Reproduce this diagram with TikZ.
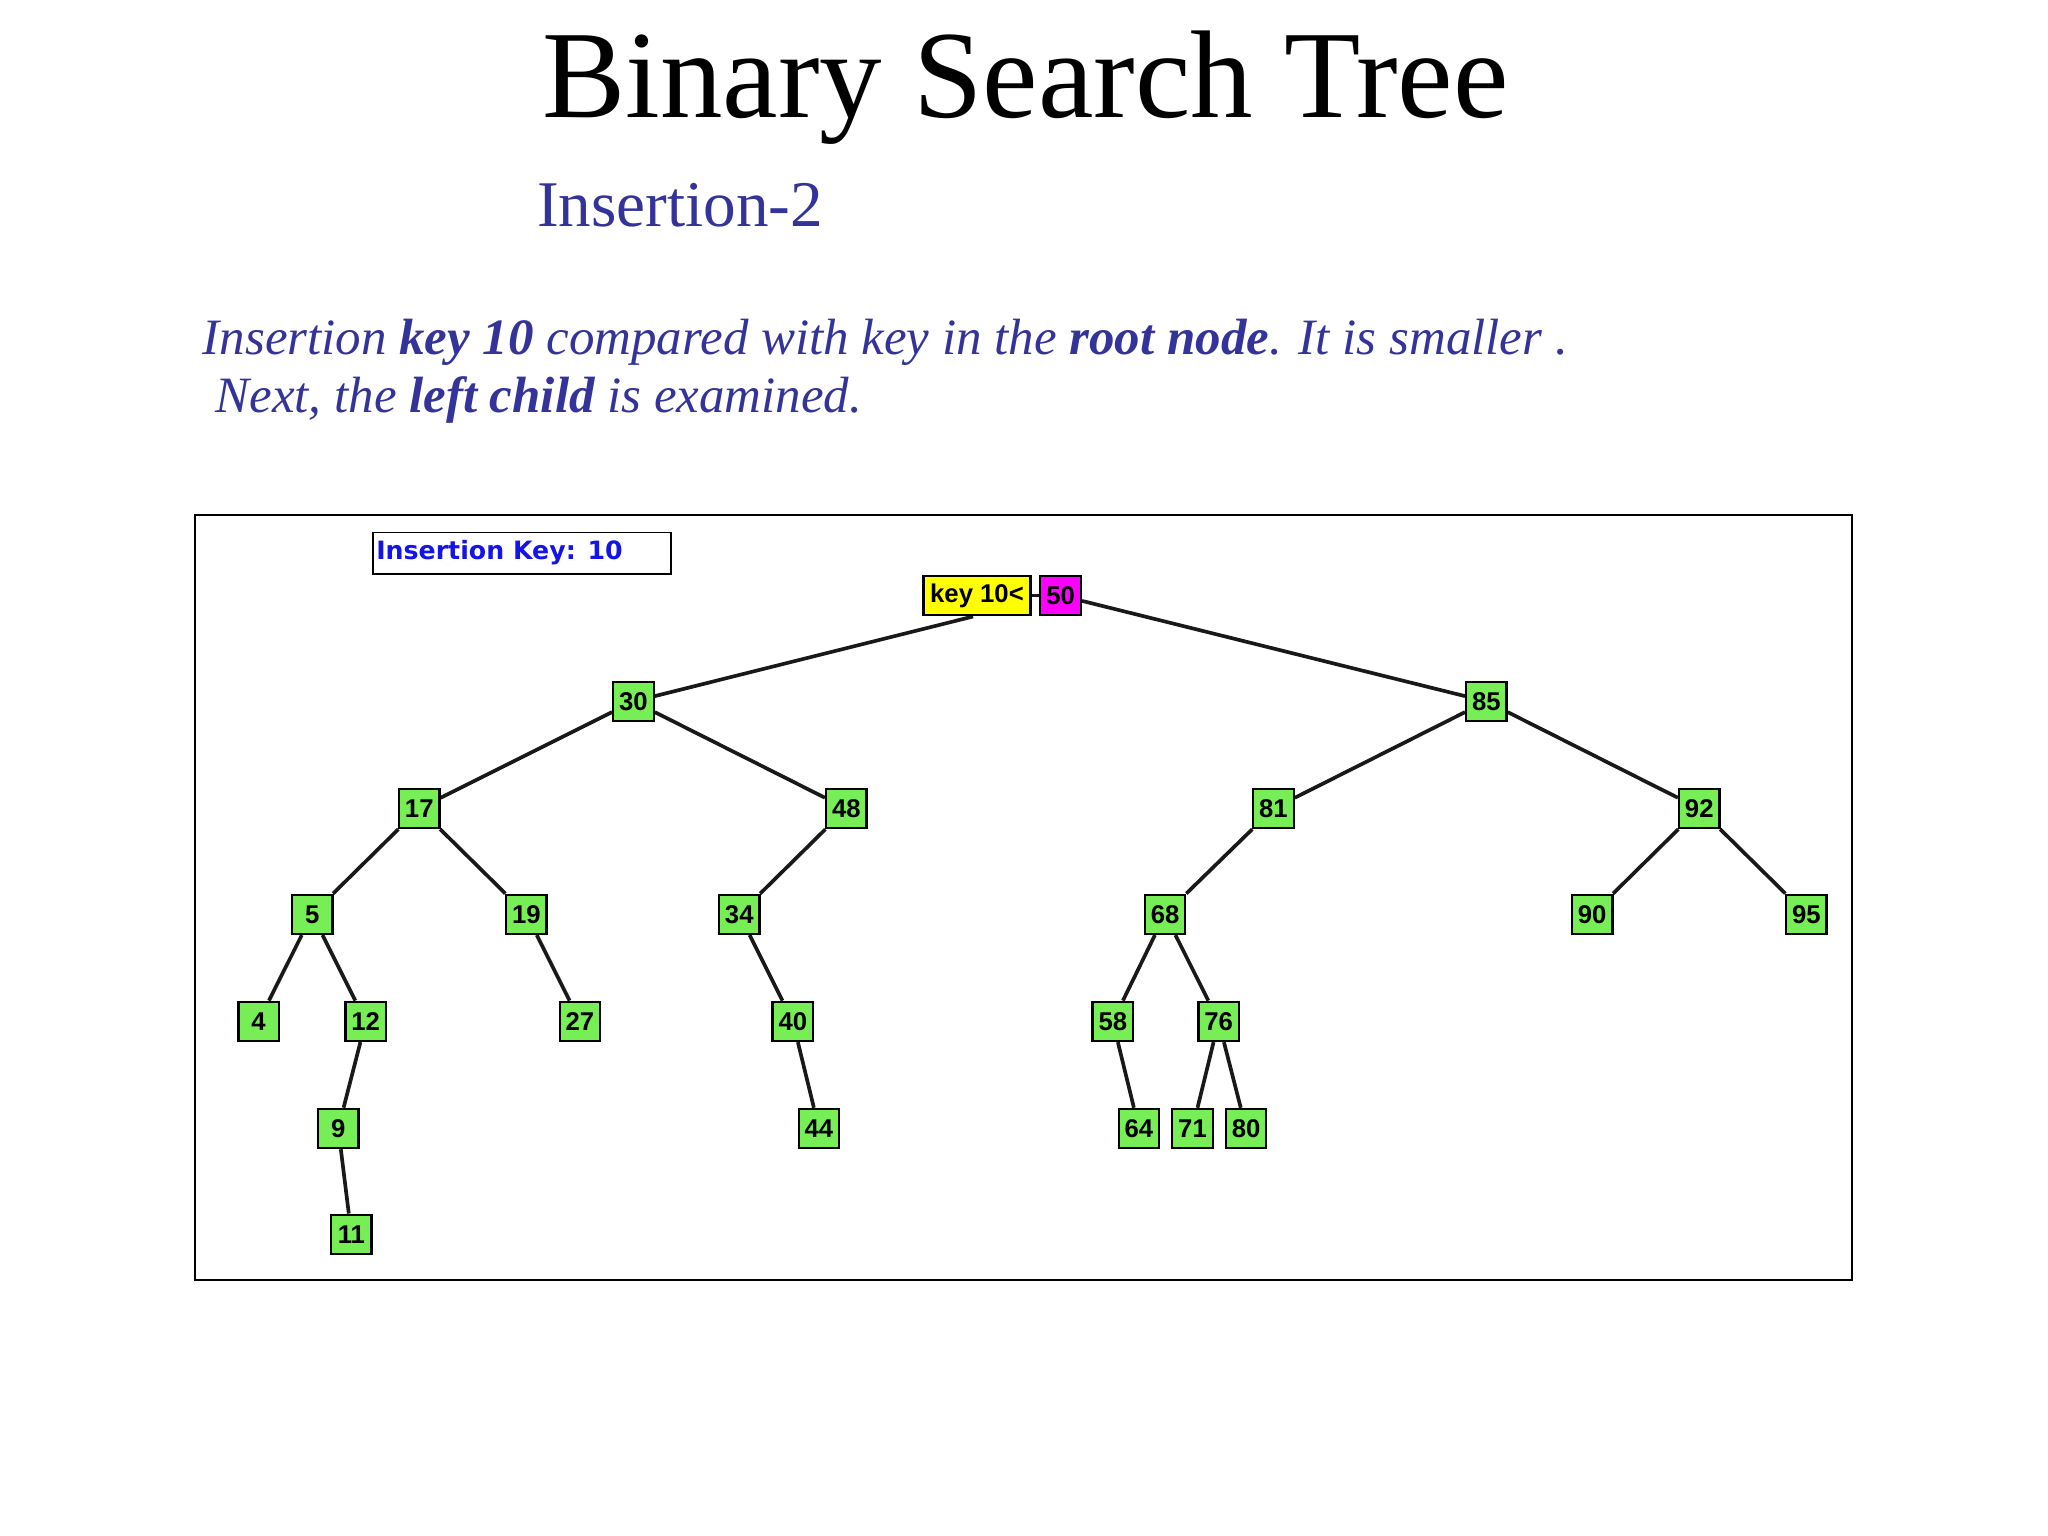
\documentclass[tikz,border=0pt]{standalone}
\usepackage{fontspec}
\setmainfont{Liberation Serif}
\newfontfamily\nodefont{Liberation Sans}
\newfontfamily\keyfont{DejaVu Sans}
\definecolor{slide}{RGB}{51,51,153}
\definecolor{ngreen}{RGB}{119,238,85}
\definecolor{kblue}{RGB}{20,20,230}
\definecolor{mag}{RGB}{255,0,255}
\definecolor{yel}{RGB}{255,255,0}
\begin{document}
\begin{tikzpicture}[x=0.1cm,y=-0.1cm,
  tn/.style={draw=black,line width=5pt,fill=ngreen,minimum width=3.1cm,minimum height=3.0cm,inner sep=0pt,font=\nodefont\bfseries\fontsize{56}{56}\selectfont},
  ed/.style={line width=8pt,black!90}]
\useasboundingbox (0,0) rectangle (1568,1176);
\node[font=\fontsize{272}{272}\selectfont] (title) at (785,67) {Binary Search Tree};
\node[anchor=west,text=slide,font=\fontsize{142}{142}\selectfont] (sub) at (410,157) {Insertion-2};
\node[anchor=west,text=slide,font=\itshape\fontsize{111}{111}\selectfont] (l1) at (154,262) {Insertion \textbf{key 10} compared with key in the \textbf{root node}. It is smaller .};
\node[anchor=west,text=slide,font=\itshape\fontsize{111}{111}\selectfont] (l2) at (154,306) {\ Next, the \textbf{left child} is examined.};
\draw[line width=4pt] (149,394) rectangle (1418,980);
\node[draw,line width=4pt,minimum width=22.8cm,minimum height=3.2cm,inner sep=0pt,anchor=north west] (ik) at (285,407) {};
\node[anchor=west,text=kblue,font=\keyfont\bfseries\fontsize{55}{55}\selectfont,inner sep=0pt] (ikt) at (288,423) {Insertion Key: 10};
\node[tn,fill=mag] (n50) at (812,456) {50};
\node[tn,fill=yel,minimum width=8.2cm] (key) at (748,456) {key 10<};
\foreach \n/\x/\y in {30/485/537,85/1138/537,17/321/619,48/648/619,81/975/619,92/1301/619,
5/239/700,19/403/700,34/566/700,68/892/700,90/1219/700,95/1383/700,
4/198/782,12/280/782,27/444/782,40/607/782,58/852/782,76/933/782,
9/259/864,44/627/864,64/872/864,71/913/864,80/954/864,11/269/945}
  \node[tn] (n\n) at (\x,\y) {\n};
\draw[ed] (key.east) -- (n50.west);
\draw[ed] (745,472) -- (n30);
\foreach \a/\b in {50/85,30/17,30/48,85/81,85/92,17/5,17/19,48/34,81/68,92/90,92/95,
5/4,5/12,19/27,34/40,68/58,68/76,12/9,40/44,58/64,76/71,76/80,9/11}
  \draw[ed] (n\a) -- (n\b);
\foreach \n in {30,85,17,48,81,92,5,19,34,68,90,95,4,12,27,40,58,76,9,44,64,71,80,11}
  \node[tn] at (n\n) {\n};
\node[tn,fill=mag] at (n50) {50};
\node[tn,fill=yel,minimum width=8.2cm] at (key) {key 10<};
\end{tikzpicture}
\end{document}
